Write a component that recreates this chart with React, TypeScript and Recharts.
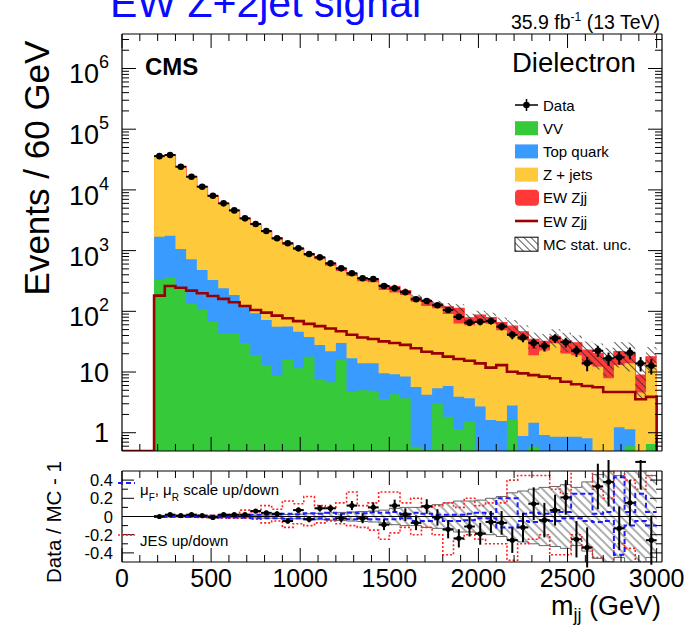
import { ComposedChart, Area, Line, Scatter, ErrorBar, XAxis, YAxis, ReferenceLine } from "recharts";

const FONT = "'Liberation Sans', Arial, Helvetica, sans-serif";

// m_jj binning: 60 GeV bins, lower edges from 180 GeV, last bin ends at 3000 GeV
const binLow = Array.from({ length: 47 }, (_, i) => 180 + 60 * i);
const X_END = 3000;
const HALF_BIN = 30;
const Y_MIN = 0.5;
const Y_MAX = 3.7e6;

// stacked MC contributions (events per bin)
const vv = [328, 363, 239, 136, 105, 67, 43, 43, 30, 19, 13, 8.7, 16.4, 11.5, 17.9, 7.4, 6.8, 15.8, 4.7, 5.0, 4.9, 3.6, 4.3,
  3.7, 0.59, 0.53, 3.05, 1.84, 1.14, 1.52, 0, 0, 0, 1.62, 0, 0.59, 0, 0, 0, 0, 0, 0, 0, 0, 0.6, 0, 0.65];
const topQuark = [1366, 1397, 823, 582, 374, 261, 196, 143, 97, 74, 59, 47, 40, 34.5, 20, 20.6, 15.2, 14.2, 12.1, 8.9, 9,
  5.9, 4.9, 4.7, 5.1, 3.7, 2.35, 4.06, 2.76, 2.18, 2.7, 1.62, 1.56, 1.18, 0.88, 0.87, 0.92, 0.86, 0.86, 0.86, 0.81, 0, 0, 1.23, 0.54, 0, 0];
const zJets = [34100, 35600, 22800, 15560, 10620, 7490, 5600, 4270, 3150, 2540, 1930, 1460, 1190, 975, 780, 690, 543, 433, 365, 299, 286, 214,
  194, 178, 138, 118, 107, 84, 59, 55, 64, 61, 47.4, 38.2, 32.8, 17.5, 21.6, 28.8, 19.4, 18.1, 12.2, 12.2, 7.9, 11.8, 12.8, 4.6, 13.2];
const ewStack = [181, 261, 245, 219, 198, 179, 160, 141, 122, 105, 95, 85, 77, 69, 62, 57, 52, 47, 41, 37, 35, 41,
  51, 32, 26, 22, 20, 29, 49, 19.5, 20, 16, 16, 16, 12.3, 15.6, 9.6, 8.3, 12.5, 11.4, 10, 8.1, 8.9, 8.6, 6.4, 4.3, 4];
// EW Zjj signal alone (line)
const ewLine = [181, 261, 245, 219, 198, 179, 160, 141, 122, 105, 95, 85, 77, 69, 62, 57, 52, 47, 41, 37, 35, 32,
  30, 28, 24.6, 21.6, 20.3, 17.9, 16.4, 15.3, 13.9, 11.8, 13, 10.1, 9.5, 8.9, 8.4, 7.9, 6.9, 6.3, 5.9, 5.6, 4.7, 4.7, 4.7, 3.55, 3.9];
// relative MC stat. uncertainty
const mcUnc = [0.004, 0.004, 0.005, 0.006, 0.007, 0.008, 0.01, 0.012, 0.014, 0.016, 0.018, 0.02, 0.022, 0.025, 0.03, 0.035, 0.04, 0.045, 0.05, 0.055,
  0.06, 0.07, 0.09, 0.1, 0.1, 0.12, 0.13, 0.15, 0.17, 0.17, 0.18, 0.2, 0.22, 0.26, 0.28, 0.3, 0.32, 0.33, 0.35, 0.32, 0.38, 0.46, 0.5, 0.45, 0.5, 0.6, 0.45];

// data
const dataCounts = [36000, 37600, 24100, 16500, 11300, 8000, 6000, 4600, 3400, 2740, 2100, 1600, 1320, 1090, 880, 775, 617, 510, 423, 350, 341, 261,
  239, 206, 158, 148, 126, 105, 81, 65, 67, 69, 56, 41, 37, 30, 27, 36, 31, 22.4, 14, 22.4, 16.8, 17.5, 20.8, 13.9, 12.7];
const dataErr = [190, 194, 155, 128, 106, 89, 77, 68, 58, 52, 46, 40, 36, 33, 30, 28, 25, 23, 21, 19, 18, 16, 15.5, 14.4, 12.6, 12.2, 11.2, 10.2, 9, 8,
  8.2, 8.3, 7.5, 6.4, 6.1, 5.5, 5.2, 6, 5.6, 4.7, 3.7, 4.7, 4.1, 4.2, 4.6, 3.7, 3.6];

// ratio panel
const ratio = [0, 0.02, 0.01, 0.02, 0.01, -0.01, 0.02, 0.02, 0.02, 0.06, 0.04, 0.03, -0.05, 0.07, -0.03, 0.09, 0.09, -0.02, 0.12, -0.02, 0.1, -0.09, 0.12,
  0.02, -0.07, 0.11, -0.01, -0.14, -0.24, -0.11, -0.19, -0.06, -0.07, -0.26, -0.12, 0.14, -0.04, 0.07, 0.21, -0.25, -0.34, 0.33, 0.38, -0.13, 0.15, 0.6, -0.26];
const ratioErr = [0.005, 0.005, 0.006, 0.008, 0.009, 0.011, 0.013, 0.015, 0.017, 0.019, 0.022, 0.025, 0.027, 0.03, 0.034, 0.036, 0.04, 0.045, 0.05, 0.054,
  0.055, 0.06, 0.065, 0.07, 0.08, 0.08, 0.09, 0.1, 0.1, 0.11, 0.12, 0.12, 0.13, 0.14, 0.16, 0.18, 0.19, 0.17, 0.19, 0.2, 0.22, 0.25, 0.27, 0.24, 0.25, 0.3, 0.27];
const scaleUp = [0.003, 0.003, 0.004, 0.005, 0.006, 0.008, 0.01, 0.012, 0.015, 0.02, 0.02, 0.025, 0.03, 0.025, 0.035, 0.03, 0.04, 0.03, 0.04, 0.035,
  0.045, 0.04, 0.05, 0.03, 0.04, 0.03, 0.02, 0.02, 0.02, 0.03, 0.04, 0.03, 0.2, 0.2, 0.03, 0.04, 0.03, 0.05, 0.05, 0.25, 0.25, 0.03, 0.05, 0.43, 0.05, 0.25, 0.05];
const scaleDown = [-0.003, -0.003, -0.004, -0.005, -0.006, -0.008, -0.01, -0.012, -0.015, -0.02, -0.02, -0.02, -0.025, -0.02, -0.03, -0.02, -0.03, -0.01, -0.03, -0.02,
  -0.03, -0.03, -0.03, -0.02, -0.05, -0.05, -0.03, -0.05, -0.05, -0.04, -0.02, -0.02, -0.12, -0.12, -0.05, -0.06, -0.05, -0.05, -0.02, -0.02, -0.05, -0.06, -0.05, -0.42, -0.1, -0.05, -0.1];
const jesUp = [0.005, 0.005, 0.006, 0.008, 0.01, 0.012, 0.015, 0.02, 0.07, 0.05, 0.12, 0.08, 0.17, 0.14, 0.22, 0.12, 0.1, 0.15, 0.27, 0.12,
  0.15, 0.27, 0.27, 0.15, 0.2, 0.1, 0.12, 0.15, 0.1, 0.2, 0.12, 0.15, 0.15, 0.4, 0.45, 0.45, 0.45, 0.3, 0.25, 0.55, 0.55, 0.3, 0.2, 0.55, 0.4, 0.3, 0.45];
const jesDown = [-0.005, -0.005, -0.006, -0.008, -0.01, -0.012, -0.015, -0.02, -0.02, -0.03, -0.07, -0.05, -0.12, -0.08, -0.1, -0.07, -0.05, -0.08, -0.1, -0.12,
  -0.15, -0.25, -0.18, -0.12, -0.2, -0.12, -0.2, -0.42, -0.25, -0.2, -0.25, -0.3, -0.3, -0.48, -0.3, -0.25, -0.2, -0.42, -0.42, -0.2, -0.35, -0.45, -0.5, -0.3, -0.35, -0.5, -0.5];

// axis ticks
const xTicks = Array.from({ length: 31 }, (_, i) => i * 100);
const yDecades = [1, 10, 100, 1e3, 1e4, 1e5, 1e6];
const yTicks = [0.6, 0.7, 0.8, 0.9, ...yDecades.flatMap((d) => [1, 2, 3, 4, 5, 6, 7, 8, 9].map((m) => m * d))].filter((v) => v <= Y_MAX);
const rTicks = [-0.4, -0.3, -0.2, -0.1, 0, 0.1, 0.2, 0.3, 0.4];
const rLabels = [-0.4, -0.2, 0, 0.2, 0.4];

const legendItems = [
  { label: "Data", kind: "data" },
  { label: "VV", kind: "box", color: "#36c93a" },
  { label: "Top quark", kind: "box", color: "#3a9bff" },
  { label: "Z + jets", kind: "box", color: "#fec93a" },
  { label: "EW Zjj", kind: "round", color: "#ff3838" },
  { label: "EW Zjj", kind: "line", color: "#990000" },
  { label: "MC stat. unc.", kind: "hatch" },
];

const floor = (v: number) => Math.max(v, 0.05);

const stackRows = binLow.map((lo, i) => {
  const c1 = vv[i];
  const c2 = c1 + topQuark[i];
  const c3 = c2 + zJets[i];
  const c4 = c3 + ewStack[i];
  return {
    x: lo,
    vv: floor(c1),
    top: floor(c2),
    zj: floor(c3),
    tot: c4,
    band: [c4 * (1 - mcUnc[i]), c4 * (1 + mcUnc[i])],
    ewLine: ewLine[i],
  };
});
const lastStack = stackRows[stackRows.length - 1];
const mainRows = [{ x: 0, ewLine: Y_MIN }, ...stackRows, { ...lastStack, x: X_END, ewLine: Y_MIN }];

const dataPoints = binLow.map((lo, i) => ({ x: lo + HALF_BIN, y: dataCounts[i], ey: dataErr[i], ex: HALF_BIN }));

const ratioBins = binLow.map((lo, i) => ({
  x: lo,
  band: [-mcUnc[i], mcUnc[i]],
  sUp: scaleUp[i],
  sDn: scaleDown[i],
  jUp: jesUp[i],
  jDn: jesDown[i],
}));
const ratioRows = [...ratioBins, { ...ratioBins[ratioBins.length - 1], x: X_END }];
const ratioPoints = binLow.map((lo, i) => ({ x: lo + HALF_BIN, y: ratio[i], ey: ratioErr[i], ex: HALF_BIN }));

const isMajorX = (v: number) => v % 500 === 0;

function XTick(side: "bottom" | "top", labels: boolean) {
  return (p: any) => {
    const { x, y, payload } = p;
    const len = isMajorX(payload.value) ? 14 : 7;
    const d = side === "bottom" ? -len : len;
    return (
      <g>
        <line x1={x} x2={x} y1={y} y2={y + d} stroke="#000" strokeWidth={1} />
        {labels && isMajorX(payload.value) && (
          <text x={x} y={y + 25} textAnchor="middle" fontSize={25} fontFamily={FONT} fill="#000">
            {payload.value}
          </text>
        )}
      </g>
    );
  };
}

function LogTick(side: "left" | "right") {
  return (p: any) => {
    const { x, y, payload } = p;
    const v = payload.value;
    const major = yDecades.includes(v);
    const len = major ? 14 : 7;
    const d = side === "left" ? len : -len;
    const k = Math.round(Math.log10(v));
    let label = null;
    if (side === "left" && major) {
      label =
        k < 2 ? (
          <text x={x - 13} y={y + 9.5} textAnchor="end" fontSize={27} fontFamily={FONT} fill="#000">
            {v}
          </text>
        ) : (
          <text x={x - 13} y={y + 15} textAnchor="end" fontSize={27} fontFamily={FONT} fill="#000">
            10<tspan dy={-15} fontSize={18}>{k}</tspan>
          </text>
        );
    }
    return (
      <g>
        <line x1={x} x2={x + d} y1={y} y2={y} stroke="#000" strokeWidth={1} />
        {label}
      </g>
    );
  };
}

function RatioTick(side: "left" | "right") {
  return (p: any) => {
    const { x, y, payload } = p;
    const v = payload.value;
    const major = rLabels.some((r) => Math.abs(r - v) < 1e-9);
    const len = major ? 12 : 6;
    const d = side === "left" ? len : -len;
    return (
      <g>
        <line x1={x} x2={x + d} y1={y} y2={y} stroke="#000" strokeWidth={1} />
        {side === "left" && major && (
          <text x={x - 9} y={y + 6} textAnchor="end" fontSize={16.5} fontFamily={FONT} fill="#000">
            {Math.abs(v) < 1e-9 ? "0" : v.toFixed(1)}
          </text>
        )}
      </g>
    );
  };
}

const dot = (p: any) => <circle cx={p.cx} cy={p.cy} r={3.3} fill="#000" />;
const smallDot = (p: any) => <circle cx={p.cx} cy={p.cy} r={2.6} fill="#000" />;

function MainPanel() {
  return (
    <ComposedChart width={689} height={460} data={mainRows} margin={{ top: 0, right: 0, bottom: 0, left: 0 }}>
      <defs>
        <pattern id="hatchTop" width={5} height={5} patternUnits="userSpaceOnUse" patternTransform="rotate(-45)">
          <line x1={2.5} y1={0} x2={2.5} y2={5} stroke="#333" strokeWidth={0.8} />
        </pattern>
      </defs>
      <XAxis xAxisId="b" dataKey="x" type="number" domain={[0, 3030]} allowDataOverflow ticks={xTicks} interval={0}
        height={9} tickSize={0} tickMargin={0} tick={XTick("bottom", false)} axisLine={{ stroke: "#000", strokeWidth: 1.2 }} tickLine={false} />
      <XAxis xAxisId="t" orientation="top" dataKey="x" type="number" domain={[0, 3030]} allowDataOverflow ticks={xTicks} interval={0}
        height={34} tickSize={0} tickMargin={0} tick={XTick("top", false)} axisLine={{ stroke: "#000", strokeWidth: 1.2 }} tickLine={false} />
      <YAxis yAxisId="l" type="number" scale="log" domain={[Y_MIN, Y_MAX]} allowDataOverflow ticks={yTicks} interval={0}
        width={122} tickSize={0} tickMargin={0} tick={LogTick("left")} axisLine={{ stroke: "#000", strokeWidth: 1.2 }} tickLine={false} />
      <YAxis yAxisId="r" orientation="right" type="number" scale="log" domain={[Y_MIN, Y_MAX]} allowDataOverflow ticks={yTicks} interval={0}
        width={27} tickSize={0} tickMargin={0} tick={LogTick("right")} axisLine={{ stroke: "#000", strokeWidth: 1.2 }} tickLine={false} />

      <Area xAxisId="b" yAxisId="l" type="stepAfter" dataKey="tot" baseValue={Y_MIN} fill="#ff3838" fillOpacity={1}
        stroke="#ff3838" strokeWidth={1.2} isAnimationActive={false} />
      <Area xAxisId="b" yAxisId="l" type="stepAfter" dataKey="zj" baseValue={Y_MIN} fill="#fec93a" fillOpacity={1}
        stroke="none" isAnimationActive={false} />
      <Area xAxisId="b" yAxisId="l" type="stepAfter" dataKey="top" baseValue={Y_MIN} fill="#3a9bff" fillOpacity={1}
        stroke="none" isAnimationActive={false} />
      <Area xAxisId="b" yAxisId="l" type="stepAfter" dataKey="vv" baseValue={Y_MIN} fill="#36c93a" fillOpacity={1}
        stroke="none" isAnimationActive={false} />
      <Area xAxisId="b" yAxisId="l" type="stepAfter" dataKey="band" fill="url(#hatchTop)" fillOpacity={1}
        stroke="none" isAnimationActive={false} />
      <Line xAxisId="b" yAxisId="l" type="stepAfter" dataKey="ewLine" stroke="#990000" strokeWidth={2.6} dot={false}
        isAnimationActive={false} />
      <Scatter xAxisId="b" yAxisId="l" data={dataPoints} dataKey="y" shape={dot} isAnimationActive={false}>
        <ErrorBar dataKey="ey" direction="y" width={0} stroke="#000" strokeWidth={2} />
        <ErrorBar dataKey="ex" direction="x" width={0} stroke="#000" strokeWidth={2} />
      </Scatter>
    </ComposedChart>
  );
}

function RatioPanel() {
  return (
    <ComposedChart width={689} height={168} data={ratioRows} margin={{ top: 0, right: 0, bottom: 0, left: 0 }}>
      <defs>
        <pattern id="hatchRatio" width={6} height={6} patternUnits="userSpaceOnUse" patternTransform="rotate(-45)">
          <line x1={3} y1={0} x2={3} y2={6} stroke="#333" strokeWidth={0.8} />
        </pattern>
      </defs>
      <XAxis xAxisId="b" dataKey="x" type="number" domain={[0, 3030]} allowDataOverflow ticks={xTicks} interval={0}
        height={66} tickSize={0} tickMargin={0} tick={XTick("bottom", true)} axisLine={{ stroke: "#000", strokeWidth: 1.2 }} tickLine={false} />
      <XAxis xAxisId="t" orientation="top" dataKey="x" type="number" domain={[0, 3030]} allowDataOverflow ticks={xTicks} interval={0}
        height={11} tickSize={0} tickMargin={0} tick={XTick("top", false)} axisLine={{ stroke: "#000", strokeWidth: 1.2 }} tickLine={false} />
      <YAxis yAxisId="l" type="number" domain={[-0.5, 0.5]} allowDataOverflow ticks={rTicks} interval={0}
        width={122} tickSize={0} tickMargin={0} tick={RatioTick("left")} axisLine={{ stroke: "#000", strokeWidth: 1.2 }} tickLine={false} />
      <YAxis yAxisId="r" orientation="right" type="number" domain={[-0.5, 0.5]} allowDataOverflow ticks={rTicks} interval={0}
        width={27} tickSize={0} tickMargin={0} tick={RatioTick("right")} axisLine={{ stroke: "#000", strokeWidth: 1.2 }} tickLine={false} />

      <Area xAxisId="b" yAxisId="l" type="stepAfter" dataKey="band" fill="url(#hatchRatio)" fillOpacity={1}
        stroke="#666" strokeWidth={1} isAnimationActive={false} />
      <ReferenceLine xAxisId="b" yAxisId="l" y={0} stroke="#000" strokeWidth={1} />
      <Line xAxisId="b" yAxisId="l" type="stepAfter" dataKey="jUp" stroke="#ff2020" strokeWidth={1.6} strokeDasharray="2 2"
        dot={false} isAnimationActive={false} />
      <Line xAxisId="b" yAxisId="l" type="stepAfter" dataKey="jDn" stroke="#ff2020" strokeWidth={1.6} strokeDasharray="2 2"
        dot={false} isAnimationActive={false} />
      <Line xAxisId="b" yAxisId="l" type="stepAfter" dataKey="sUp" stroke="#1a1aff" strokeWidth={2} strokeDasharray="5 3"
        dot={false} isAnimationActive={false} />
      <Line xAxisId="b" yAxisId="l" type="stepAfter" dataKey="sDn" stroke="#1a1aff" strokeWidth={2} strokeDasharray="5 3"
        dot={false} isAnimationActive={false} />
      <Scatter xAxisId="b" yAxisId="l" data={ratioPoints} dataKey="y" shape={smallDot} isAnimationActive={false}>
        <ErrorBar dataKey="ey" direction="y" width={0} stroke="#000" strokeWidth={2} />
        <ErrorBar dataKey="ex" direction="x" width={0} stroke="#000" strokeWidth={2} />
      </Scatter>
    </ComposedChart>
  );
}

function Overlay() {
  const rowY = (i: number) => 105 + i * 23.2;
  return (
    <svg width={689} height={628} fontFamily={FONT} style={{ position: "absolute", left: 0, top: 0, pointerEvents: "none" }}>
      <defs>
        <pattern id="hatchLeg" width={5} height={5} patternUnits="userSpaceOnUse" patternTransform="rotate(-45)">
          <line x1={2.5} y1={0} x2={2.5} y2={5} stroke="#333" strokeWidth={0.8} />
        </pattern>
      </defs>
      <text x={110} y={17} fontSize={41} fill="#0a0aff">EW Z+2jet signal</text>
      <text x={660} y={29} textAnchor="end" fontSize={19.5} fill="#000">
        35.9 fb<tspan dy={-8} fontSize={12}>-1</tspan><tspan dy={8}> (13 TeV)</tspan>
      </text>
      <text x={145} y={75} fontSize={24} fontWeight="bold" fill="#000">CMS</text>
      <text x={512} y={72} fontSize={27.5} fill="#000">Dielectron</text>

      {legendItems.map((it, i) => {
        const cy = rowY(i);
        let mark = null;
        if (it.kind === "data") {
          mark = (
            <g>
              <line x1={515} x2={538} y1={cy} y2={cy} stroke="#000" strokeWidth={1.5} />
              <line x1={526.5} x2={526.5} y1={cy - 6} y2={cy + 6} stroke="#000" strokeWidth={1.5} />
              <circle cx={526.5} cy={cy} r={3.3} fill="#000" />
            </g>
          );
        } else if (it.kind === "box") {
          mark = <rect x={515} y={cy - 7} width={23} height={14} fill={it.color} />;
        } else if (it.kind === "round") {
          mark = <rect x={515} y={cy - 8} width={24} height={16} rx={4} fill={it.color} />;
        } else if (it.kind === "line") {
          mark = <line x1={515} x2={538} y1={cy} y2={cy} stroke={it.color} strokeWidth={2.6} />;
        } else {
          mark = <rect x={515} y={cy - 7} width={23} height={14} fill="url(#hatchLeg)" stroke="#000" strokeWidth={1} />;
        }
        return (
          <g key={i}>
            {mark}
            <text x={543} y={cy + 5.5} fontSize={15} fill="#000">{it.label}</text>
          </g>
        );
      })}

      <text transform="translate(49,168) rotate(-90)" textAnchor="middle" fontSize={35} fill="#000">Events / 60 GeV</text>
      <text transform="translate(61,522) rotate(-90)" textAnchor="middle" fontSize={20.5} fill="#000">Data / MC - 1</text>
      <text x={661} y={615} textAnchor="end" fontSize={27} fill="#000">
        m<tspan dy={6} fontSize={18}>jj</tspan><tspan dy={-6}> (GeV)</tspan>
      </text>

      <line x1={118} x2={135} y1={483} y2={483} stroke="#1a1aff" strokeWidth={2} strokeDasharray="5 3" />
      <text x={140} y={495} fontSize={15} fill="#000">
        μ<tspan dy={6} fontSize={10}>F</tspan><tspan dy={-6}>, μ</tspan><tspan dy={6} fontSize={10}>R</tspan><tspan dy={-6}> scale up/down</tspan>
      </text>
      <line x1={118} x2={135} y1={535} y2={535} stroke="#ff2020" strokeWidth={1.6} strokeDasharray="2 2" />
      <text x={140} y={546} fontSize={15} fill="#000">JES up/down</text>
    </svg>
  );
}

export default function App() {
  return (
    <div style={{ position: "absolute", left: 0, top: 0, width: 689, height: 628, background: "#fff", overflow: "hidden" }}>
      <div style={{ position: "absolute", left: 0, top: 0 }}>
        <MainPanel />
      </div>
      <div style={{ position: "absolute", left: 0, top: 460 }}>
        <RatioPanel />
      </div>
      <Overlay />
    </div>
  );
}
